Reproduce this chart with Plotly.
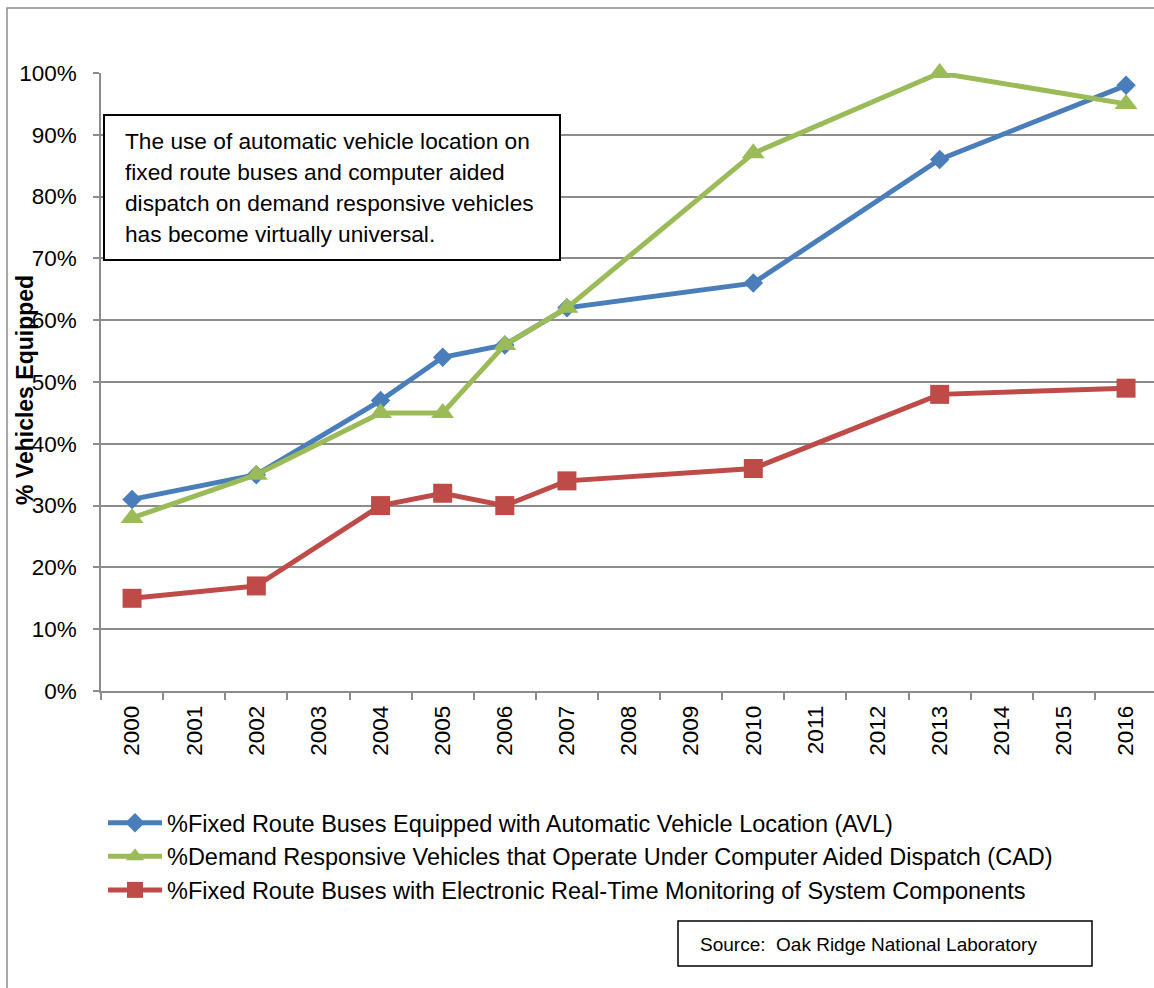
import plotly.graph_objects as go

years = [str(y) for y in range(2000, 2017)]
data_years = ["2000", "2002", "2004", "2005", "2006", "2007", "2010", "2013", "2016"]
avl = [0.31, 0.35, 0.47, 0.54, 0.56, 0.62, 0.66, 0.86, 0.98]
cad = [0.28, 0.35, 0.45, 0.45, 0.56, 0.62, 0.87, 1.00, 0.95]
rtm = [0.15, 0.17, 0.30, 0.32, 0.30, 0.34, 0.36, 0.48, 0.49]

names = [
    "%Fixed Route Buses Equipped with Automatic Vehicle Location (AVL)",
    "%Demand Responsive Vehicles that Operate Under Computer Aided Dispatch (CAD)",
    "%Fixed Route Buses with Electronic Real-Time Monitoring of System Components",
]
note_lines = [
    "The use of automatic vehicle location on",
    "fixed route buses and computer aided",
    "dispatch on demand responsive vehicles",
    "has become virtually universal.",
]
source_text = "Source:  Oak Ridge National Laboratory"
y_title = "% Vehicles Equipped"

FONT = "Liberation Sans, Arial, sans-serif"
W, H = 1154, 988
ML, MR, MT, MB = 101, 0, 73, 297
PW = W - ML - MR
PH = H - MT - MB


def px(x):
    return (x - ML) / PW


def py(y):
    return (H - MB - y) / PH


fig = go.Figure()
series = [
    (avl, names[0], "#4A7EBB", "diamond", 15),
    (cad, names[1], "#9BBB59", "triangle-up", 20),
    (rtm, names[2], "#BE4B48", "square", 19),
]
for vals, nm, col, sym, sz in series:
    fig.add_trace(go.Scatter(
        x=data_years, y=vals, name=nm, mode="lines+markers",
        line=dict(color=col, width=5),
        marker=dict(symbol=sym, size=sz, color=col),
        cliponaxis=False,
    ))

grid = "#8c8c8c"
fig.update_xaxes(
    type="category", categoryorder="array", categoryarray=years,
    tickvals=years, range=[-0.5, 16.45], tickson="boundaries",
    ticks="outside", ticklen=7, tickcolor=grid, tickwidth=1.5,
    showline=True, linecolor=grid, linewidth=1.5, showgrid=False,
    tickangle=-90, tickfont=dict(family=FONT, size=22.5, color="black"),
    ticklabelstandoff=4,
)
fig.update_yaxes(
    range=[0, 1], dtick=0.1, tickformat=".0%",
    ticks="outside", ticklen=6, tickcolor=grid, tickwidth=1.5,
    showline=True, linecolor=grid, linewidth=1.5,
    showgrid=True, gridcolor=grid, gridwidth=1.5, zeroline=False,
    tickfont=dict(family=FONT, size=22.5, color="black"),
    ticklabelstandoff=12,
)

shapes = [
    # outer chart frame
    dict(type="rect", xref="paper", yref="paper",
         x0=px(7), x1=px(1170), y0=py(1010), y1=py(8),
         line=dict(color=grid, width=1.5), layer="below"),
    # note box
    dict(type="rect", xref="paper", yref="paper",
         x0=px(104), x1=px(560), y0=py(260), y1=py(115),
         line=dict(color="black", width=2), fillcolor="white", layer="above"),
    # source box
    dict(type="rect", xref="paper", yref="paper",
         x0=px(678), x1=px(1092), y0=py(966), y1=py(921),
         line=dict(color="black", width=1.5), fillcolor="white", layer="above"),
]

annotations = []
for i, line in enumerate(note_lines):
    annotations.append(dict(
        text=line, xref="paper", yref="paper", x=px(123), y=py(141 + i * 31),
        xanchor="left", yanchor="middle", showarrow=False,
        font=dict(family=FONT, size=22.7, color="black"),
    ))
annotations.append(dict(
    text=source_text, xref="paper", yref="paper", x=px(698), y=py(944),
    xanchor="left", yanchor="middle", showarrow=False,
    font=dict(family=FONT, size=19, color="black"),
))
annotations.append(dict(
    text="<b>" + y_title + "</b>", xref="paper", yref="paper", x=px(25), y=py(390),
    xanchor="center", yanchor="middle", showarrow=False, textangle=-90,
    font=dict(family=FONT, size=23, color="black"),
))

fig.update_layout(
    width=W, height=H,
    margin=dict(l=ML, r=MR, t=MT, b=MB),
    paper_bgcolor="white", plot_bgcolor="white",
    showlegend=True,
    legend=dict(
        x=px(103), y=py(801), xanchor="left", yanchor="top",
        orientation="v", bgcolor="rgba(0,0,0,0)",
        font=dict(family=FONT, size=23.5, color="black"),
        itemwidth=54, tracegroupgap=0,
    ),
    shapes=shapes, annotations=annotations,
)

fig.write_html("out.html")
